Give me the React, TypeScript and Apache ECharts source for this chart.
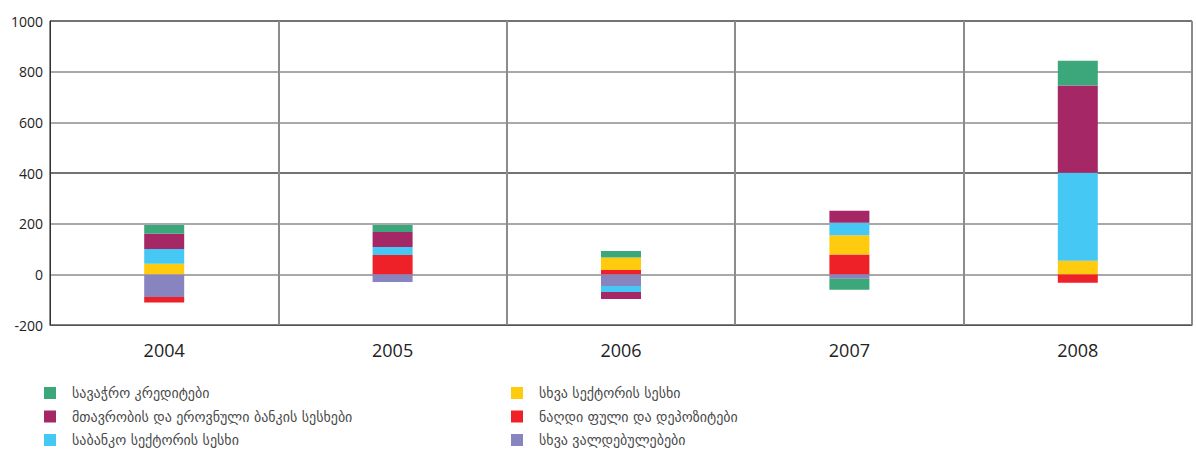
import React, { useEffect, useRef } from "react";
import * as echarts from "echarts";

const years = ["2004", "2005", "2006", "2007", "2008"];
const yTicks = [-200, 1000];

const nameGreen = "სავაჭრო კრედიტები";
const nameMagenta = "მთავრობის და ეროვნული ბანკის სესხები";
const nameCyan = "საბანკო სექტორის სესხი";
const nameYellow = "სხვა სექტორის სესხი";
const nameRed = "ნაღდი ფული და დეპოზიტები";
const namePurple = "სხვა ვალდებულებები";

const greenVals = [35, 28, 26, -44, 98];
const magentaVals = [60, 59, -27, 47, 344];
const cyanVals = [58, 32, -24, 50, 347];
const yellowVals = [42, 0, 49, 76, 54];
const redVals = [-22, 76, 17, 78, -33];
const purpleVals = [-89, -30, -46, -17, 0];

const colors = {
  green: "#3ca77a",
  magenta: "#a62766",
  cyan: "#46c8f4",
  yellow: "#ffcb0f",
  red: "#ee2028",
  purple: "#8884bf",
};

const legendText = {
  fontFamily: "DejaVu Sans",
  fontSize: 14,
  color: "#4a4a4a",
  padding: [0, 0, 0, 11],
};

export default function App() {
  const ref = useRef<HTMLDivElement>(null);
  useEffect(() => {
    if (!ref.current) return;
    const chart = echarts.init(ref.current, undefined, { renderer: "svg" });
    const mk = (name: string, data: number[], color: string) => ({
      name,
      type: "bar",
      stack: "total",
      barWidth: 40,
      data,
      itemStyle: { color },
    });
    const legendBase = {
      orient: "vertical",
      top: 386,
      height: 66,
      padding: 0,
      itemWidth: 12,
      itemHeight: 12,
      itemGap: 9.5,
      icon: "rect",
      textStyle: legendText,
    };
    chart.setOption({
      animation: false,
      grid: { left: 50, right: 4, top: 21, bottom: 127 },
      legend: [
        { ...legendBase, left: 44, data: [nameGreen, nameMagenta, nameCyan] },
        { ...legendBase, left: 511, data: [nameYellow, nameRed, namePurple] },
      ],
      xAxis: {
        type: "category",
        data: years,
        axisLine: { onZero: false, lineStyle: { color: "#555", width: 1 } },
        axisTick: { show: false },
        splitLine: { show: true, lineStyle: { color: "#8c8c8c", width: 2 } },
        axisLabel: {
          fontFamily: "Open Sans",
          fontSize: 18,
          color: "#222",
          margin: 16,
        },
      },
      yAxis: {
        type: "value",
        min: yTicks[0],
        max: yTicks[1],
        interval: 200,
        axisLine: { show: true, lineStyle: { color: "#333", width: 1 } },
        axisTick: { show: false },
        axisLabel: {
          fontFamily: "Open Sans",
          fontSize: 14,
          color: "#222",
          margin: 7,
          formatter: (v: number) => String(v),
        },
        splitLine: {
          show: true,
          lineStyle: {
            color: ["#555", "#8c8c8c", "#8c8c8c", "#444", "#8c8c8c", "#8c8c8c", "#444"],
            width: 1.5,
          },
        },
      },
      series: [
        mk(namePurple, purpleVals, colors.purple),
        mk(nameRed, redVals, colors.red),
        mk(nameYellow, yellowVals, colors.yellow),
        mk(nameCyan, cyanVals, colors.cyan),
        mk(nameMagenta, magentaVals, colors.magenta),
        mk(nameGreen, greenVals, colors.green),
      ],
    });
    return () => chart.dispose();
  }, []);
  return (
    <div
      ref={ref}
      style={{ position: "fixed", left: 0, top: 0, width: 1196, height: 452, background: "#fff" }}
    />
  );
}
